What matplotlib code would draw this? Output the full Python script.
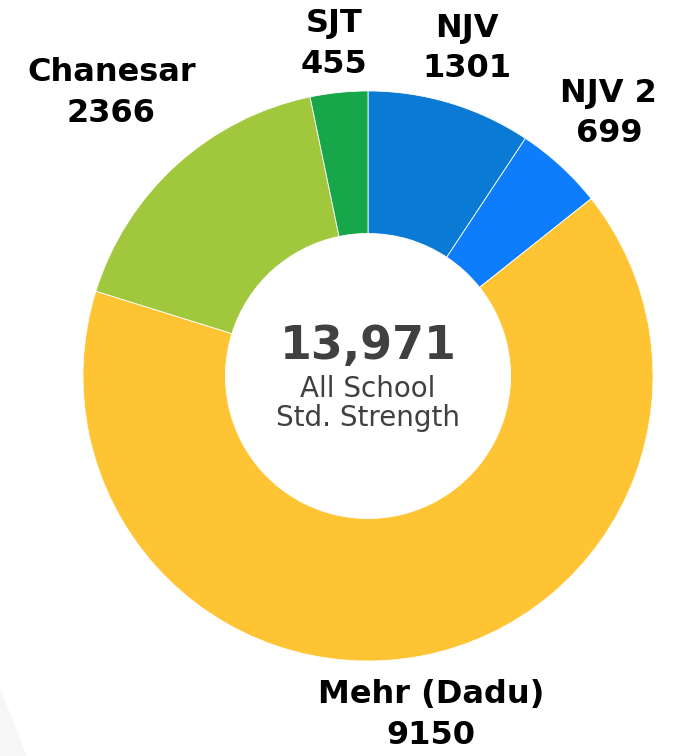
import numpy as np
import matplotlib.pyplot as plt
from matplotlib.patches import Polygon

# data
schools = ["NJV", "NJV 2", "Mehr (Dadu)", "Chanesar", "SJT"]
students = [1301, 699, 9150, 2366, 455]
colors = ["#0A7AD4", "#0D7DFC", "#FFC433", "#A1C83C", "#17A64A"]
label_dist = [1.20, 1.25, 1.21, 1.34, 1.17]   # how far each label sits out

total = sum(students)

fig = plt.figure(figsize=(6.75, 7.56), dpi=100)
ax = fig.add_axes([0, 0, 1, 1])

# faint background shape in the lower-left corner
fig.add_artist(Polygon([[0, 0.0873], [0.0385, 0], [0, 0]], closed=True,
                       transform=fig.transFigure, color="#F6F6F6", zorder=0))

wedges, _ = ax.pie(students, colors=colors, startangle=90, counterclock=False,
                   radius=1.0, wedgeprops=dict(width=0.5, edgecolor="white", linewidth=0.6))

# pie() resets the view, so set limits afterwards
ax.set_xlim(-1.291, 1.077)
ax.set_ylim(-1.333, 1.319)
ax.set_aspect("equal")
ax.axis("off")
ax.patch.set_alpha(0)

for w, name, val, d in zip(wedges, schools, students, label_dist):
    ang = np.deg2rad((w.theta1 + w.theta2) / 2)
    ax.text(d * np.cos(ang), d * np.sin(ang), f"{name}\n{val}", ha="center", va="center",
            fontsize=23, fontweight="bold", color="black", linespacing=1.4,
            family="DejaVu Sans")

ax.text(0, 0.105, f"{total:,}", ha="center", va="center", fontsize=33,
        fontweight="bold", color="#404040", family="DejaVu Sans")
ax.text(0, -0.097, "All School\nStd. Strength", ha="center", va="center", fontsize=20,
        color="#404040", family="DejaVu Sans", linespacing=1.05)

fig.savefig("out.png", dpi=100)
